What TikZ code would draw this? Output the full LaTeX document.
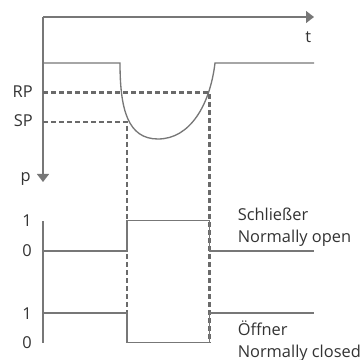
\documentclass[tikz,border=0pt]{standalone}
\usepackage{fontspec}
\setmainfont{Open Sans}
\usetikzlibrary{arrows.meta}
\definecolor{linegray}{HTML}{777777}
\definecolor{dashgray}{HTML}{6A6A6A}
\definecolor{textgray}{HTML}{333333}
\begin{document}
\begin{tikzpicture}[x=0.75pt,y=-0.75pt,
  axis/.style={draw=linegray, line width=1pt},
  axisarrow/.style={axis, -{Triangle[length=6pt,width=9pt]}},
  signal/.style={draw=linegray, line width=1pt, line join=miter},
  guide/.style={draw=dashgray, line width=1.7pt, dash pattern=on 3.6pt off 2.4pt},
  lbl/.style={text=textgray, inner sep=0pt, font=\fontsize{12.3pt}{14pt}\selectfont}]
\path[use as bounding box] (0,0) rectangle (361,360);

% axes of the pressure plot
\coordinate (o) at (43,17);
\coordinate (tend) at (314,17);
\coordinate (pend) at (43,182);
\draw[axisarrow] (o) -- (tend);
\draw[axisarrow] (o) -- (pend);
\node[lbl, anchor=base west] (t) at (305,43) {t};
\node[lbl, anchor=base east] (p) at (31,181) {p};

% pressure curve with the dip below SP and back above RP
\coordinate (c0) at (43,63);
\coordinate (c1) at (120,63);
\coordinate (cmin) at (158,139);
\coordinate (c2) at (215,63);
\coordinate (c3) at (314,63);
\draw[signal] (c0) -- (c1)
  .. controls (120,110) and (128,139) .. (cmin)
  .. controls (190,139) and (210,105) .. (c2) -- (c3);

% switching and reset points
\coordinate (sp0) at (43,122);
\coordinate (sp1) at (127,122);
\coordinate (rp0) at (43,92.5);
\coordinate (rp1) at (209.5,92.5);
\coordinate (spb) at (127,343);
\coordinate (rpb) at (209.5,343);
\draw[guide] (rp0) -- (rp1) -- (rpb);
\draw[guide] (sp0) -- (sp1) -- (spb);
\node[lbl, anchor=base east] (rp) at (33,97.5) {RP};
\node[lbl, anchor=base east] (sp) at (33,127) {SP};

% output axis
\coordinate (q0) at (43,221);
\coordinate (q1) at (43,343);
\draw[axis] (q0) -- (q1);

% normally open contact
\coordinate (no0) at (43,251);
\coordinate (no1) at (127,251);
\coordinate (no2) at (127,220.5);
\coordinate (no3) at (209.5,220.5);
\coordinate (no4) at (209.5,251);
\coordinate (no5) at (314,251);
\draw[signal] (no0) -- (no1) -- (no2) -- (no3) -- (no4) -- (no5);

% normally closed contact
\coordinate (nc0) at (43,313);
\coordinate (nc1) at (127,313);
\coordinate (nc2) at (127,342.5);
\coordinate (nc3) at (209.5,342.5);
\coordinate (nc4) at (209.5,313);
\coordinate (nc5) at (314,313);
\draw[signal] (nc0) -- (nc1) -- (nc2) -- (nc3) -- (nc4) -- (nc5);

% logic levels
\node[lbl, anchor=base east] (hi1) at (32,226.5) {1};
\node[lbl, anchor=base east] (lo1) at (32,256.5) {0};
\node[lbl, anchor=base east] (hi2) at (32,319) {1};
\node[lbl, anchor=base east] (lo2) at (32,348.5) {0};

% contact names
\node[lbl, anchor=base west] (no) at (237.5,220) {Schließer};
\node[lbl, anchor=base west] (noen) at (237.5,242.5) {Normally open};
\node[lbl, anchor=base west] (nc) at (237.5,335.5) {Öffner};
\node[lbl, anchor=base west] (ncen) at (237.5,357.5) {Normally closed};
\end{tikzpicture}
\end{document}
